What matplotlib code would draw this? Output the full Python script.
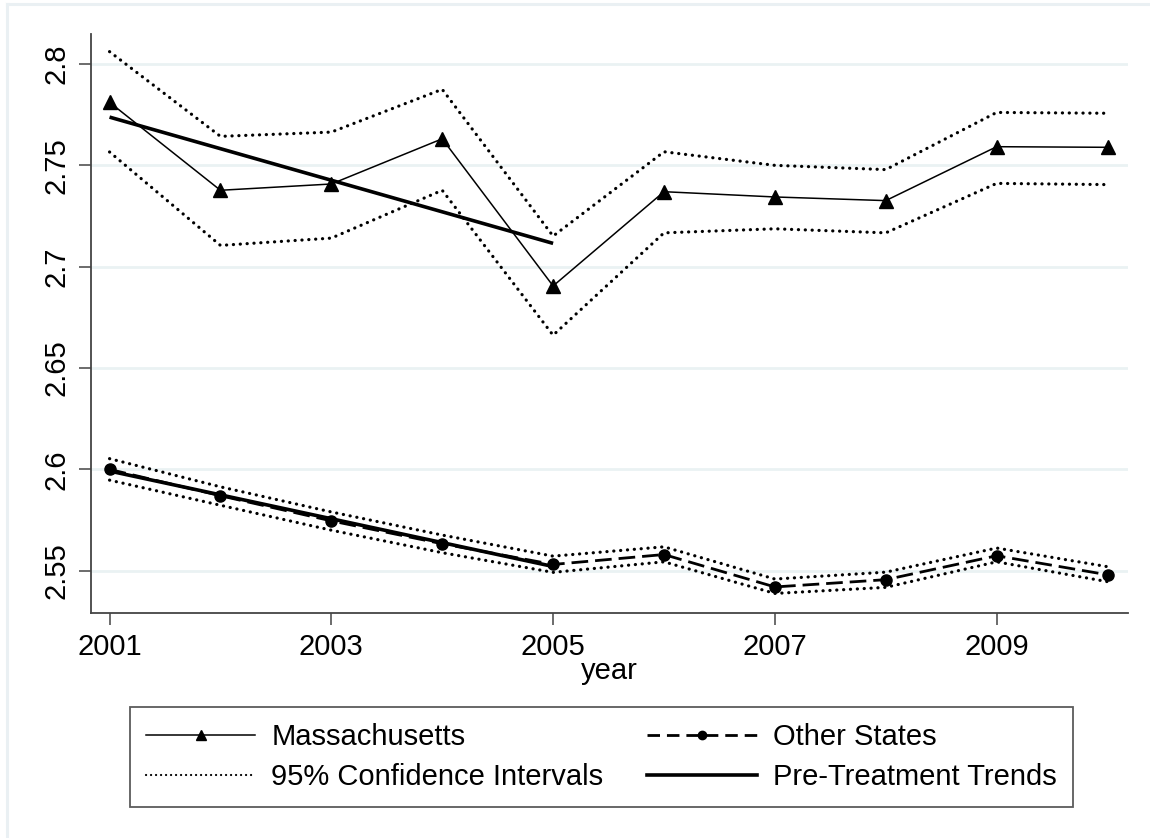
import matplotlib
matplotlib.use("Agg")
import matplotlib.pyplot as plt
from matplotlib.lines import Line2D

plt.rcParams['font.family'] = ['Liberation Sans', 'DejaVu Sans']

# ---- data ----
years = [2001, 2002, 2003, 2004, 2005, 2006, 2007, 2008, 2009, 2010]
ma_vals = [2.7811, 2.7377, 2.7408, 2.7631, 2.6905, 2.7370, 2.7344, 2.7326, 2.7592, 2.7589]
ma_upper = [2.8061, 2.7643, 2.7664, 2.7875, 2.7151, 2.7567, 2.7500, 2.7479, 2.7761, 2.7757]
ma_lower = [2.7566, 2.7105, 2.7141, 2.7377, 2.6662, 2.7167, 2.7187, 2.7167, 2.7411, 2.7405]
other_vals = [2.6000, 2.5870, 2.5746, 2.5633, 2.5531, 2.5580, 2.5420, 2.5456, 2.5574, 2.5480]
other_upper = [2.6053, 2.5914, 2.5790, 2.5676, 2.5572, 2.5618, 2.5459, 2.5493, 2.5612, 2.5520]
other_lower = [2.5947, 2.5823, 2.5700, 2.5589, 2.5492, 2.5544, 2.5388, 2.5418, 2.5544, 2.5446]
trend_years = [2001, 2005]
ma_trend = [2.7738, 2.7115]
other_trend = [2.5992, 2.5521]
xticks = [2001, 2003, 2005, 2007, 2009]
yticks = [2.55, 2.6, 2.65, 2.7, 2.75, 2.8]
ytick_labels = ['2.55', '2.6', '2.65', '2.7', '2.75', '2.8']
labels = ['Massachusetts', 'Other States', '95% Confidence Intervals', 'Pre-Treatment Trends']

FS = 21
fig = plt.figure(figsize=(11.5, 8.38), dpi=100)
ax = fig.add_axes([90.7/1150, 1-612.7/838, (1127.5-90.7)/1150, (612.7-34)/838])

grid_c = '#EAF2F3'
for yv in yticks:
    ax.axhline(yv, color=grid_c, lw=2.0, zorder=0)

dot = dict(color='black', lw=2.3, linestyle=(0, (0.05, 2.1)), dash_capstyle='round')

ax.plot(years, ma_upper, **dot, zorder=2)
ax.plot(years, ma_lower, **dot, zorder=2)
ax.plot(years, other_upper, **dot, zorder=2)
ax.plot(years, other_lower, **dot, zorder=2)

ax.plot(years, ma_vals, color='black', lw=1.1, marker='^', markersize=10, zorder=3)
ax.plot(years, other_vals, color='black', lw=2.0, linestyle=(0, (6, 2.5)),
        marker='o', markersize=8, zorder=3)

ax.plot(trend_years, ma_trend, color='black', lw=2.6, zorder=4, solid_capstyle='butt')
ax.plot(trend_years, other_trend, color='black', lw=2.6, zorder=4, solid_capstyle='butt')

ax.set_xlim(2000.83, 2010.18)
ax.set_ylim(2.5293, 2.8148)
ax.set_xticks(xticks)
ax.set_xticklabels([str(x) for x in xticks], fontsize=FS)
ax.set_yticks(yticks)
ax.set_yticklabels(ytick_labels, fontsize=FS, rotation=90, va='center')
ax.tick_params(axis='both', direction='out', length=8.5, width=1.1, color='#444444')
ax.tick_params(axis='x', pad=6)
ax.tick_params(axis='y', pad=6)
for s in ['top', 'right']:
    ax.spines[s].set_visible(False)
for s in ['left', 'bottom']:
    ax.spines[s].set_color('#444444')
    ax.spines[s].set_linewidth(1.3)
ax.set_xlabel('year', fontsize=FS, labelpad=-3)

h_ma = Line2D([], [], color='black', lw=1.1, marker='^', markersize=7)
h_ot = Line2D([], [], color='black', lw=2.0, linestyle=(0, (4.5, 2.5)), marker='o', markersize=6)
h_ci = Line2D([], [], color='black', lw=1.6, linestyle=(0, (0.05, 2.2)), dash_capstyle='round')
h_tr = Line2D([], [], color='black', lw=2.6)
leg = fig.legend([h_ma, h_ci, h_ot, h_tr], [labels[0], labels[2], labels[1], labels[3]],
                 ncol=2, loc='upper left', bbox_to_anchor=(130/1150, 1-706.7/838),
                 bbox_transform=fig.transFigure, fontsize=FS, frameon=True, fancybox=False,
                 edgecolor='#333333', handlelength=3.75, handletextpad=0.55,
                 columnspacing=1.5, borderpad=0.55, labelspacing=0.42, borderaxespad=0)
leg.get_frame().set_linewidth(1.3)

# graph region outline (top/left visible)
fig.add_artist(Line2D([6.5/1150, 1.0], [1-4.5/838, 1-4.5/838], transform=fig.transFigure,
                      color='#EAF0F3', lw=2.2))
fig.add_artist(Line2D([6.5/1150, 6.5/1150], [0, 1-4.5/838], transform=fig.transFigure,
                      color='#EAF0F3', lw=2.2))

fig.savefig('out.png', dpi=100)
